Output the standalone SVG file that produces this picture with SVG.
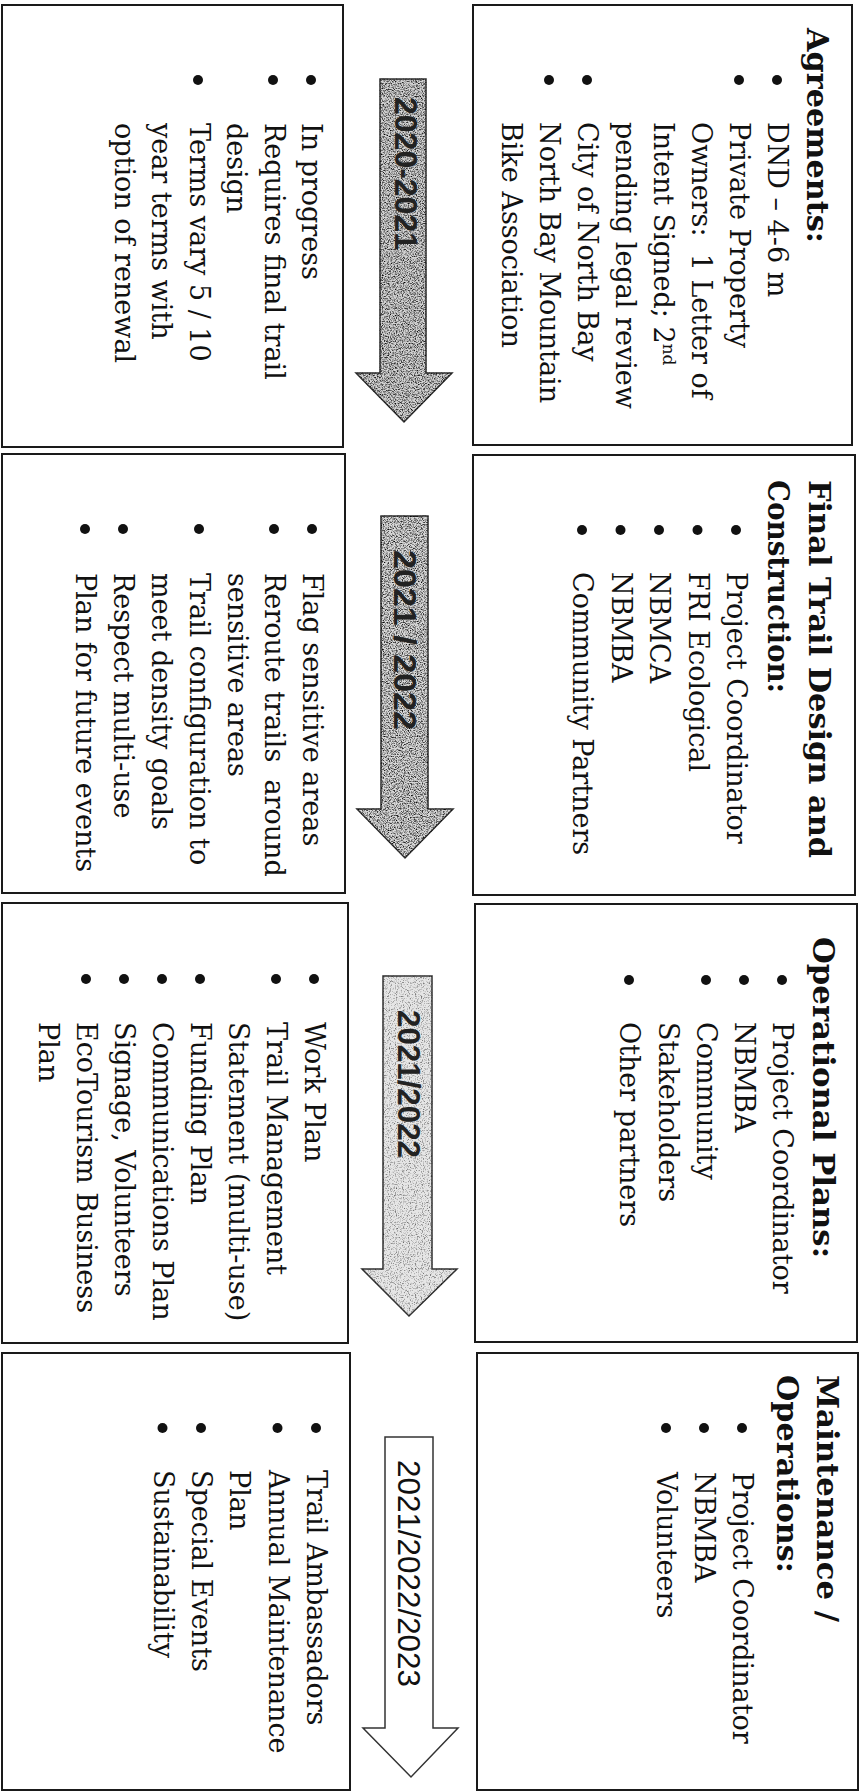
<svg xmlns="http://www.w3.org/2000/svg" width="859" height="1791" viewBox="0 0 859 1791">
<style>
.box{fill:#fff;stroke:#1a1a1a;stroke-width:2}
.b{font-family:"DejaVu Serif","Liberation Serif",serif;font-size:27px;fill:#111}
.h{font-family:"DejaVu Serif","Liberation Serif",serif;font-size:30px;font-weight:bold;fill:#111}
.yr{font-family:"Liberation Sans",Arial,sans-serif;font-size:31px;fill:#222;font-weight:bold}
.yr4{font-family:"Liberation Sans",Arial,sans-serif;font-size:31px;fill:#111}
.dot{fill:#111}
.arr{stroke:#333;stroke-width:1.5}
</style>
<defs>
<filter id="grainDark" x="-5%" y="-5%" width="110%" height="110%" color-interpolation-filters="sRGB">
<feTurbulence type="fractalNoise" baseFrequency="0.85" numOctaves="2" seed="7" result="n"/>
<feColorMatrix in="n" type="matrix" values="2.4 0 0 0 -0.4  2.4 0 0 0 -0.4  2.4 0 0 0 -0.4  0 0 0 0 1" result="g"/>
<feComposite in="g" in2="SourceGraphic" operator="arithmetic" k1="1" k2="0" k3="0" k4="0"/>
</filter>
<filter id="grainLight" x="-5%" y="-5%" width="110%" height="110%" color-interpolation-filters="sRGB">
<feTurbulence type="fractalNoise" baseFrequency="0.85" numOctaves="2" seed="3" result="n"/>
<feColorMatrix in="n" type="matrix" values="1.6 0 0 0 0.2  1.6 0 0 0 0.2  1.6 0 0 0 0.2  0 0 0 0 1" result="g"/>
<feComposite in="g" in2="SourceGraphic" operator="arithmetic" k1="1" k2="0" k3="0" k4="0"/>
</filter>
</defs>

<g id="agreements">
<rect class="box" x="473" y="5" width="379" height="440"/>
<circle class="dot" cx="777" cy="80" r="5"/><circle class="dot" cx="739" cy="80" r="5"/>
<circle class="dot" cx="587" cy="80" r="5"/><circle class="dot" cx="549" cy="80" r="5"/>
<g transform="rotate(90)">
<text class="h" x="28" y="-807" textLength="215" lengthAdjust="spacingAndGlyphs">Agreements:</text>
<text class="b" x="122" y="-768">DND – 4-6 m</text>
<text class="b" x="122" y="-730">Private Property</text>
<text class="b" x="122" y="-692">Owners:&#160; 1 Letter of</text>
<text class="b" x="122" y="-654">Intent Signed; 2<tspan font-size="17" dy="-9">nd</tspan></text>
<text class="b" x="122" y="-616">pending legal review</text>
<text class="b" x="122" y="-578">City of North Bay</text>
<text class="b" x="122" y="-540">North Bay Mountain</text>
<text class="b" x="122" y="-502">Bike Association</text>
</g>
</g>

<g id="agreements-status">
<rect class="box" x="2" y="5" width="341" height="442"/>
<circle class="dot" cx="311" cy="80" r="5"/><circle class="dot" cx="273" cy="80" r="5"/><circle class="dot" cx="198" cy="80" r="5"/>
<g transform="rotate(90)">
<text class="b" x="123" y="-302">In progress</text>
<text class="b" x="123" y="-264.5">Requires final trail</text>
<text class="b" x="123" y="-227">design</text>
<text class="b" x="123" y="-189.5">Terms vary 5 / 10</text>
<text class="b" x="123" y="-152">year terms with</text>
<text class="b" x="123" y="-114.5">option of renewal</text>
</g>
</g>

<g id="design">
<rect class="box" x="473" y="455" width="382" height="440"/>
<circle class="dot" cx="736" cy="530" r="5"/><circle class="dot" cx="697.5" cy="530" r="5"/>
<circle class="dot" cx="659" cy="530" r="5"/><circle class="dot" cx="620.5" cy="530" r="5"/><circle class="dot" cx="582" cy="530" r="5"/>
<g transform="rotate(90)">
<text class="h" x="480" y="-809" textLength="378" lengthAdjust="spacingAndGlyphs">Final Trail Design and</text>
<text class="h" x="480" y="-768" textLength="213" lengthAdjust="spacingAndGlyphs">Construction:</text>
<text class="b" x="572" y="-727">Project Coordinator</text>
<text class="b" x="572" y="-688.5">FRI Ecological</text>
<text class="b" x="572" y="-650">NBMCA</text>
<text class="b" x="572" y="-611.5">NBMBA</text>
<text class="b" x="572" y="-573">Community Partners</text>
</g>
</g>

<g id="design-tasks">
<rect class="box" x="2" y="454" width="343" height="439"/>
<circle class="dot" cx="312" cy="529" r="5"/><circle class="dot" cx="274" cy="529" r="5"/><circle class="dot" cx="199" cy="529" r="5"/>
<circle class="dot" cx="123" cy="529" r="5"/><circle class="dot" cx="85" cy="529" r="5"/>
<g transform="rotate(90)">
<text class="b" x="573" y="-303">Flag sensitive areas</text>
<text class="b" x="573" y="-265">Reroute trails&#160; around</text>
<text class="b" x="573" y="-227.5">sensitive areas</text>
<text class="b" x="573" y="-190">Trail configuration to</text>
<text class="b" x="573" y="-152">meet density goals</text>
<text class="b" x="573" y="-114">Respect multi-use</text>
<text class="b" x="573" y="-76">Plan for future events</text>
</g>
</g>

<g id="operational">
<rect class="box" x="475" y="904" width="382" height="438"/>
<circle class="dot" cx="782" cy="980" r="5"/><circle class="dot" cx="744" cy="980" r="5"/>
<circle class="dot" cx="706" cy="980" r="5"/><circle class="dot" cx="629" cy="980" r="5"/>
<g transform="rotate(90)">
<text class="h" x="937" y="-813" textLength="321" lengthAdjust="spacingAndGlyphs">Operational Plans:</text>
<text class="b" x="1022" y="-773">Project Coordinator</text>
<text class="b" x="1022" y="-735">NBMBA</text>
<text class="b" x="1022" y="-697">Community</text>
<text class="b" x="1022" y="-659">Stakeholders</text>
<text class="b" x="1022" y="-620">Other partners</text>
</g>
</g>

<g id="operational-plans">
<rect class="box" x="2" y="903" width="346" height="440"/>
<circle class="dot" cx="314" cy="979" r="5"/><circle class="dot" cx="276" cy="979" r="5"/><circle class="dot" cx="200" cy="979" r="5"/>
<circle class="dot" cx="162" cy="979" r="5"/><circle class="dot" cx="124" cy="979" r="5"/><circle class="dot" cx="86" cy="979" r="5"/>
<g transform="rotate(90)">
<text class="b" x="1022" y="-305">Work Plan</text>
<text class="b" x="1022" y="-267">Trail Management</text>
<text class="b" x="1022" y="-229">Statement (multi-use)</text>
<text class="b" x="1022" y="-191">Funding Plan</text>
<text class="b" x="1022" y="-153">Communications Plan</text>
<text class="b" x="1022" y="-115">Signage, Volunteers</text>
<text class="b" x="1022" y="-77">EcoTourism Business</text>
<text class="b" x="1022" y="-39">Plan</text>
</g>
</g>

<g id="maintenance">
<rect class="box" x="477" y="1353" width="381" height="437"/>
<circle class="dot" cx="742" cy="1428" r="5"/><circle class="dot" cx="704" cy="1428" r="5"/><circle class="dot" cx="666" cy="1428" r="5"/>
<g transform="rotate(90)">
<text class="h" x="1375" y="-817" textLength="247" lengthAdjust="spacingAndGlyphs">Maintenance /</text>
<text class="h" x="1375" y="-777" textLength="198" lengthAdjust="spacingAndGlyphs">Operations:</text>
<text class="b" x="1472" y="-733">Project Coordinator</text>
<text class="b" x="1472" y="-695">NBMBA</text>
<text class="b" x="1472" y="-657">Volunteers</text>
</g>
</g>

<g id="maintenance-tasks">
<rect class="box" x="2" y="1353" width="348" height="437"/>
<circle class="dot" cx="316" cy="1428" r="5"/><circle class="dot" cx="277.5" cy="1428" r="5"/>
<circle class="dot" cx="201" cy="1428" r="5"/><circle class="dot" cx="162.5" cy="1428" r="5"/>
<g transform="rotate(90)">
<text class="b" x="1470" y="-307">Trail Ambassadors</text>
<text class="b" x="1470" y="-268.5">Annual Maintenance</text>
<text class="b" x="1470" y="-230">Plan</text>
<text class="b" x="1470" y="-192">Special Events</text>
<text class="b" x="1470" y="-153.5">Sustainability</text>
</g>
</g>

<g id="connectors">
<polygon class="arr" fill="#d2d2d2" filter="url(#grainDark)" points="380,79 426,79 426,373 452,373 404,422 356,373 380,373"/>
<polygon class="arr" fill="#d8d8d8" filter="url(#grainDark)" points="381,516 428,516 428,809 453,809 405,858 357,809 381,809"/>
<polygon class="arr" fill="#e6e6e6" filter="url(#grainLight)" points="383,976 432,976 432,1269 457,1269 409,1316 362,1269 383,1269"/>
<polygon class="arr" fill="#ffffff" points="385,1437 433,1437 433,1728 458,1728 411,1777 363,1728 385,1728"/>
<g transform="rotate(90)">
<text class="yr" x="97" y="-395" textLength="153" lengthAdjust="spacingAndGlyphs">2020-2021</text>
<text class="yr" x="550" y="-394" textLength="180" lengthAdjust="spacingAndGlyphs">2021 / 2022</text>
<text class="yr" x="1010" y="-398" textLength="148" lengthAdjust="spacingAndGlyphs">2021/2022</text>
<text class="yr4" x="1460" y="-398" textLength="227" lengthAdjust="spacingAndGlyphs">2021/2022/2023</text>
</g>
</g>
</svg>
